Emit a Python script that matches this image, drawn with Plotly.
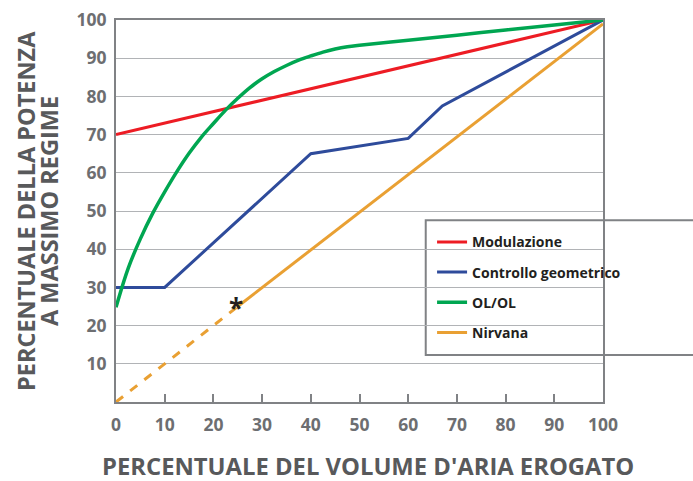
import plotly.graph_objects as go

# Data
mod_x = [0, 100]
mod_y = [70, 100]

geo_x = [0, 10, 40, 60, 67, 100]
geo_y = [30, 30, 65, 69, 77.5, 100]

ol_x = [0, 2.5, 5, 7.5, 10, 12.5, 15, 17.5, 20, 22.5, 25, 27.5, 30, 32.5, 35, 37.5, 40,
        42.5, 45, 47.5, 50, 60, 70, 80, 90, 100]
ol_y = [24.8, 35, 42.7, 49.3, 55, 60.3, 65.1, 69.3, 72.9, 76.4, 79.5, 82.3, 84.6, 86.5, 88.1,
        89.5, 90.6, 91.6, 92.4, 93.0, 93.4, 94.7, 96, 97.4, 98.7, 100]

nir_dash_x = [0, 25]
nir_dash_y = [0, 25]
nir_x = [25, 100]
nir_y = [25, 99]

star_x, star_y = 24.6, 25.2

x_ticks = [0, 10, 20, 30, 40, 50, 60, 70, 80, 90, 100]
y_ticks = [10, 20, 30, 40, 50, 60, 70, 80, 90, 100]

y_title_lines = ["PERCENTUALE DELLA POTENZA", "A MASSIMO REGIME"]
x_title = "PERCENTUALE DEL VOLUME D'ARIA EROGATO"

RED = "#ed1c24"
BLUE = "#2e4b9b"
GREEN = "#00a651"
ORANGE = "#e9a033"
TICK = "#6d6e71"
TITLE = "#58595b"
AXIS = "#808285"
GRID = "#b1b3b6"
FONT = "Open Sans"

fig = go.Figure()
fig.add_trace(go.Scatter(x=mod_x, y=mod_y, mode="lines", name="Modulazione",
                         line=dict(color=RED, width=3), legendgroup="a"))
fig.add_trace(go.Scatter(x=geo_x, y=geo_y, mode="lines", name="Controllo geometrico",
                         line=dict(color=BLUE, width=3), legendgroup="b"))
fig.add_trace(go.Scatter(x=ol_x, y=ol_y, mode="lines", name="OL/OL",
                         line=dict(color=GREEN, width=3.5, shape="spline", smoothing=1.0),
                         legendgroup="c"))
fig.add_trace(go.Scatter(x=nir_x, y=nir_y, mode="lines", name="Nirvana",
                         line=dict(color=ORANGE, width=3), legendgroup="d"))
fig.add_trace(go.Scatter(x=nir_dash_x, y=nir_dash_y, mode="lines", showlegend=False,
                         line=dict(color=ORANGE, width=3, dash="dash"), legendgroup="d"))

fig.add_annotation(x=star_x, y=star_y, xref="x", yref="y", text="<b>*</b>", showarrow=False,
                   font=dict(family=FONT, size=26, color="#231f20"), yshift=-2)

# y-axis title as two rotated lines
for txt, px in zip(y_title_lines, [26, 49]):
    fig.add_annotation(x=(px - 116) / 487, y=0.5, xref="paper", yref="paper", text=txt,
                       textangle=-90, showarrow=False, xanchor="center", yanchor="middle",
                       font=dict(family=FONT, size=23.5, color=TITLE, weight="bold"))

# x-axis title
fig.add_annotation(x=(368 - 116) / 487, y=(402 - 466) / 382, xref="paper", yref="paper",
                   text=x_title, showarrow=False, xanchor="center", yanchor="middle",
                   height=26, valign="middle",
                   font=dict(family=FONT, size=23.8, color=TITLE, weight="bold"))

# legend box
fig.add_shape(type="rect", xref="paper", yref="paper", x0=0.636, x1=1.25, y0=0.123, y1=0.476,
              line=dict(color=AXIS, width=2), fillcolor="white", layer="below")

fig.update_layout(
    width=693, height=481,
    margin=dict(l=116, r=90, t=20, b=79),
    plot_bgcolor="white", paper_bgcolor="white",
    showlegend=True,
    legend=dict(x=0.649, y=0.46, xanchor="left", yanchor="top",
                bgcolor="rgba(0,0,0,0)", borderwidth=0,
                font=dict(family=FONT, size=14, color="#231f20", weight="bold"),
                tracegroupgap=9, itemwidth=30),
    xaxis=dict(range=[0, 100], tickvals=x_ticks, showgrid=False, zeroline=False,
               showline=True, linecolor=AXIS, linewidth=2, mirror=True,
               ticks="inside", ticklen=8, tickwidth=1.5, tickcolor=AXIS,
               ticklabelstandoff=6, automargin=False,
               tickfont=dict(family=FONT, size=17.5, color=TICK, weight="bold")),
    yaxis=dict(range=[0, 100], tickvals=y_ticks, showgrid=True, gridcolor=GRID, gridwidth=1,
               zeroline=False, showline=True, linecolor=AXIS, linewidth=2, mirror=True,
               ticks="", ticklabelstandoff=4, automargin=False,
               tickfont=dict(family=FONT, size=17.5, color=TICK, weight="bold")),
)

fig.write_html("out.html", post_script="document.body.style.margin='0';",
               config={"displayModeBar": False})
